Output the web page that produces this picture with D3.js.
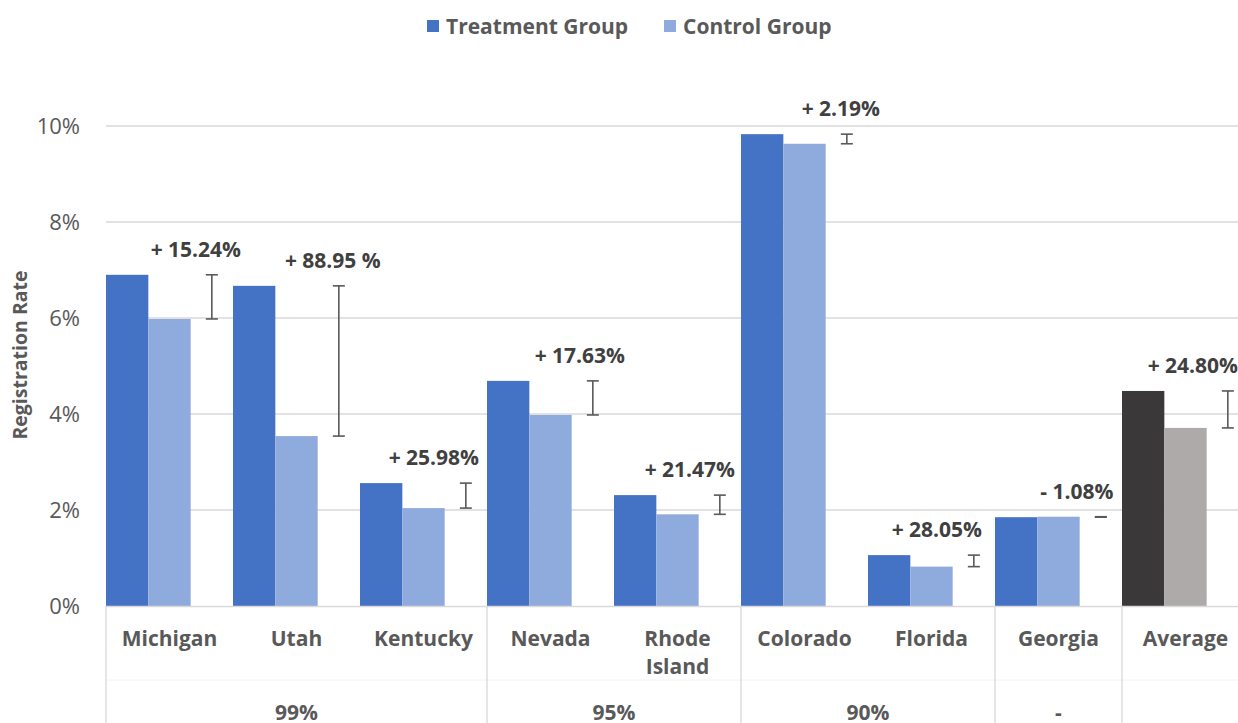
<!DOCTYPE html>
<html><head><meta charset="utf-8">
<script src="https://cdn.jsdelivr.net/npm/d3@7"></script>
<style>
html,body{margin:0;padding:0;background:#fff;}
text{font-family:"Open Sans","Noto Sans",sans-serif;}
</style></head>
<body><svg id="c" width="1238" height="723"></svg>
<script>
// ---- data ----
const categories = ["Michigan","Utah","Kentucky","Nevada","Rhode Island","Colorado","Florida","Georgia","Average"];
const treatment = [6.90, 6.67, 2.56, 4.69, 2.31, 9.83, 1.06, 1.85, 4.48];
const control   = [5.98, 3.54, 2.04, 3.98, 1.91, 9.63, 0.82, 1.86, 3.71];
const liftLabels = ["+ 15.24%","+ 88.95 %","+ 25.98%","+ 17.63%","+ 21.47%","+ 2.19%","+ 28.05%","- 1.08%","+ 24.80%"];
const groupLabels = ["99%","95%","90%","-",""];
const groupSizes = [3, 2, 2, 1, 1];
const yTicks = [0, 2, 4, 6, 8, 10];
const seriesNames = ["Treatment Group","Control Group"];

// ---- layout / style ----
const labelDx = [-16, -6, -32, -13, -30, -6, -37, -24, -35];
const colT = "#4472C4", colC = "#8FAADC", colTA = "#3A3838", colCA = "#AEAAAA";
const svg = d3.select("#c");
const mLeft = 106, mRight = 1249, mTop = 126, mBottom = 606;

const x = d3.scaleBand().domain(categories).range([mLeft, mRight]).padding(0);
const xs = d3.scaleBand().domain(["t","c","e"]).range([0, x.bandwidth()]).padding(0);
const y = d3.scaleLinear().domain([0, 10]).range([mBottom, mTop]);

// gridlines
svg.append("g").selectAll("line").data(yTicks.filter(d => d > 0)).join("line")
  .attr("x1", mLeft).attr("x2", 1238).attr("y1", d => y(d)).attr("y2", d => y(d))
  .attr("stroke", "#D9D9D9").attr("stroke-width", 1.3);

// y axis labels
const yAxis = d3.axisLeft(y).tickValues(yTicks).tickFormat(d => d + "%").tickSize(0).tickPadding(26);
const ya = svg.append("g").attr("transform", `translate(${mLeft},0)`).call(yAxis);
ya.select(".domain").remove();
ya.selectAll("text").attr("font-size", 22).attr("fill", "#595959").attr("font-family", "'Open Sans'");

// y title
svg.append("text").attr("transform", `translate(27,${355}) rotate(-90)`)
  .attr("text-anchor", "middle").attr("font-size", 19.5).attr("font-weight", "bold")
  .attr("fill", "#595959").text("Registration Rate");

// bars
const rows = categories.map((c, i) => ({c, i, t: treatment[i], k: control[i]}));
const bars = svg.append("g");
bars.selectAll("rect.t").data(rows).join("rect").attr("class", "t")
  .attr("x", d => x(d.c) + xs("t")).attr("width", xs.bandwidth())
  .attr("y", d => y(d.t)).attr("height", d => y(0) - y(d.t))
  .attr("fill", d => d.c === "Average" ? colTA : colT);
bars.selectAll("rect.k").data(rows).join("rect").attr("class", "k")
  .attr("x", d => x(d.c) + xs("c")).attr("width", xs.bandwidth())
  .attr("y", d => y(d.k)).attr("height", d => y(0) - y(d.k))
  .attr("fill", d => d.c === "Average" ? colCA : colC);

// error bars
const eb = svg.append("g").attr("stroke", "#595959").attr("stroke-width", 1.6);
rows.forEach(d => {
  const cx = x(d.c) + xs("e") + xs.bandwidth() / 2;
  const lo = Math.min(d.t, d.k), hi = Math.max(d.t, d.k);
  eb.append("line").attr("x1", cx).attr("x2", cx).attr("y1", y(lo)).attr("y2", y(hi));
  [lo, hi].forEach(v => eb.append("line").attr("x1", cx - 6).attr("x2", cx + 6).attr("y1", y(v)).attr("y2", y(v)));
});

// lift labels
svg.append("g").selectAll("text").data(rows).join("text")
  .attr("x", d => x(d.c) + xs("e") + xs.bandwidth() / 2 + labelDx[d.i])
  .attr("y", d => y(Math.max(d.t, d.k)) - 18)
  .attr("text-anchor", "middle").attr("font-size", 21).attr("font-weight", "bold")
  .attr("fill", "#404040").text(d => liftLabels[d.i]);

// x axis line
svg.append("line").attr("x1", mLeft).attr("x2", 1238).attr("y1", mBottom + 0.5).attr("y2", mBottom + 0.5)
  .attr("stroke", "#D9D9D9").attr("stroke-width", 1.3);
// faint separator between levels
svg.append("line").attr("x1", mLeft).attr("x2", 1238).attr("y1", 680).attr("y2", 680)
  .attr("stroke", "#F2F2F2").attr("stroke-width", 1);

// category labels
const cl = svg.append("g").attr("font-size", 21).attr("font-weight", "bold").attr("fill", "#595959").attr("text-anchor", "middle");
categories.forEach(c => {
  const t = cl.append("text").attr("x", x(c) + x.bandwidth() / 2).attr("y", 646);
  const parts = c === "Rhode Island" ? ["Rhode", "Island"] : [c];
  parts.forEach((p, j) => t.append("tspan").attr("x", x(c) + x.bandwidth() / 2).attr("dy", j ? 28 : 0).text(p));
});

// group dividers and labels
let idx = 0;
const bounds = [0];
groupSizes.forEach(s => { idx += s; bounds.push(idx); });
const div = svg.append("g").attr("stroke", "#D9D9D9").attr("stroke-width", 1.3);
bounds.forEach(b => {
  if (b >= categories.length) return;
  const bx = x(categories[b]);
  div.append("line").attr("x1", bx).attr("x2", bx).attr("y1", mBottom).attr("y2", 723);
});
groupLabels.forEach((g, i) => {
  const x0 = x(categories[bounds[i]]);
  const x1 = x0 + groupSizes[i] * x.step();
  svg.append("text").attr("x", (x0 + x1) / 2).attr("y", 720).attr("text-anchor", "middle")
    .attr("font-size", 21).attr("font-weight", "bold").attr("fill", "#595959").text(g);
});

// legend
const lg = svg.append("g").attr("font-size", 21).attr("font-weight", "bold").attr("fill", "#595959");
const legendItems = [{n: seriesNames[0], c: colT, x: 427}, {n: seriesNames[1], c: colC, x: 664}];
legendItems.forEach(it => {
  lg.append("rect").attr("x", it.x).attr("y", 20).attr("width", 12).attr("height", 12).attr("fill", it.c);
  lg.append("text").attr("x", it.x + 19).attr("y", 34).text(it.n);
});
</script></body></html>
